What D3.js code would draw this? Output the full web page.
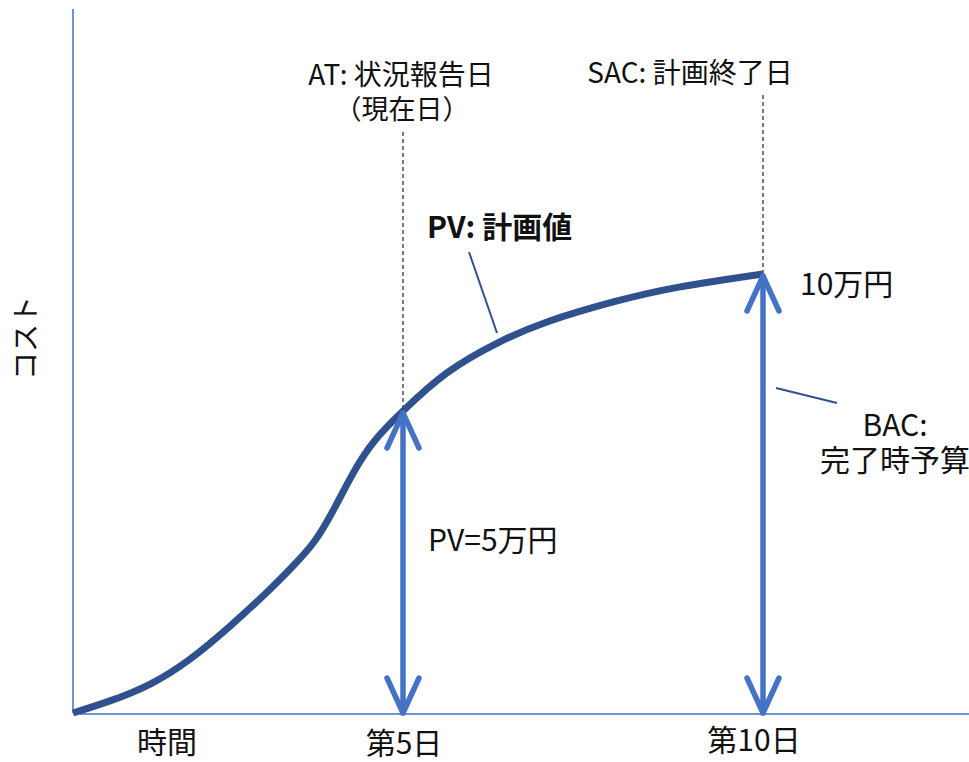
<!DOCTYPE html>
<html lang="ja">
<head>
<meta charset="utf-8">
<title>PV: 計画値</title>
<script src="https://cdn.jsdelivr.net/npm/d3@7"></script>
<style>
  html, body { margin: 0; padding: 0; background: #fff; }
  svg { display: block; }
  text { font-family: "Noto Sans CJK JP", "Noto Sans", sans-serif; fill: #111; }
</style>
</head>
<body>
<svg id="chart" width="969" height="762"></svg>
<script>
// Planned value (PV) curve: day -> cumulative planned cost (万円)
const pvDays  = [0, 0.56, 1.17, 1.77, 2.38, 2.91, 3.33, 3.67, 3.97, 4.27, 4.58, 5, 5.61, 6.31, 7.0, 7.92, 8.85, 10];
const pvCost  = [0, 0.20, 0.48, 0.89, 1.44, 1.97, 2.43, 2.86, 3.41, 4.02, 4.52, 5, 6.39, 7.48, 8.25, 8.98, 9.53, 10];

// Key dates on the time axis
const tickDays   = [5, 10];
const tickLabels = ["第5日", "第10日"];

// Status date (AT) and planned completion (SAC)
const atDay  = 5;
const sacDay = 10;

// Values marked with arrows
const pvAtValue = 5;    // PV=5万円
const bacValue  = 10;   // BAC: 10万円

const svg = d3.select("#chart");

// Scale breakpoints at day 0 / 5 / 10 and cost 0 / 5 / 10
const x = d3.scaleLinear().domain([0, 5, 10]).range([73, 403, 763]);
const y = d3.scaleLinear().domain([0, 5, 10]).range([713, 411, 274]);

const axisColor  = "#6f93d3";
const curveColor = "#2F528F";
const arrowColor = "#4472C4";

// Axes
svg.append("line")
  .attr("x1", x(0)).attr("x2", x(0))
  .attr("y1", 9).attr("y2", y(0))
  .attr("stroke", axisColor).attr("stroke-width", 2);
svg.append("line")
  .attr("x1", x(0) + 7).attr("x2", 969)
  .attr("y1", y(0) + 1).attr("y2", y(0) + 1)
  .attr("stroke", axisColor).attr("stroke-width", 2);

// Dashed guides for AT and SAC
const pvAt = d3.scaleLinear().domain(pvDays).range(pvCost);
svg.append("line")
  .attr("x1", x(atDay)).attr("x2", x(atDay))
  .attr("y1", 132).attr("y2", y(pvAt(atDay)))
  .attr("stroke", "#222").attr("stroke-width", 1.2)
  .attr("stroke-dasharray", "4,3");
svg.append("line")
  .attr("x1", x(sacDay)).attr("x2", x(sacDay))
  .attr("y1", 95).attr("y2", y(pvAt(sacDay)))
  .attr("stroke", "#222").attr("stroke-width", 1.2)
  .attr("stroke-dasharray", "4,3");

// PV curve
const pvData = pvDays.map((d, i) => [d, pvCost[i]]);
const line = d3.line()
  .x(d => x(d[0]))
  .y(d => y(d[1]))
  .curve(d3.curveNatural);
svg.append("path")
  .datum(pvData)
  .attr("d", line)
  .attr("fill", "none")
  .attr("stroke", curveColor)
  .attr("stroke-width", 7);

// Double-headed arrows from the time axis up to a value
function doubleArrow(day, value) {
  const cx = x(day), top = y(value) + 2, bottom = y(0);
  const hw = 16, hl = 35;
  const g = svg.append("g")
    .attr("fill", "none")
    .attr("stroke", arrowColor)
    .attr("stroke-width", 5.5)
    .attr("stroke-linecap", "round")
    .attr("stroke-linejoin", "round");
  g.append("line").attr("x1", cx).attr("x2", cx).attr("y1", top).attr("y2", bottom);
  g.append("path").attr("d", `M${cx - hw},${top + hl}L${cx},${top}L${cx + hw},${top + hl}`);
  g.append("path").attr("d", `M${cx - hw},${bottom - hl}L${cx},${bottom}L${cx + hw},${bottom - hl}`);
}
doubleArrow(atDay, pvAtValue);
doubleArrow(sacDay, bacValue);

// Leader lines
svg.append("line")
  .attr("x1", 469).attr("y1", 252).attr("x2", 497).attr("y2", 333)
  .attr("stroke", curveColor).attr("stroke-width", 2);
svg.append("line")
  .attr("x1", 776).attr("y1", 388).attr("x2", 837).attr("y2", 403)
  .attr("stroke", curveColor).attr("stroke-width", 2);

// Text labels
function label(txt, px, py, size, anchor, weight) {
  return svg.append("text")
    .attr("x", px).attr("y", py)
    .attr("font-size", size)
    .attr("text-anchor", anchor || "start")
    .attr("font-weight", weight || "normal")
    .text(txt);
}
label("AT: 状況報告日", x(atDay) - 2, 85, 28, "middle");
label("（現在日）", x(atDay) - 1, 119, 27, "middle");
label("SAC: 計画終了日", x(sacDay) - 73, 83, 28, "middle");
label("PV: 計画値", 427, 238, 30, "start", "bold");
label(`${bacValue}万円`, x(sacDay) + 37, 295, 30, "start");
label(`PV=${pvAtValue}万円`, x(atDay) + 25, 551, 30, "start");
label("BAC:", 895, 436, 30, "middle");
label("完了時予算", 895, 471, 30, "middle");

// Time axis labels
label("時間", 167, 753, 30, "middle");
tickDays.forEach((d, i) => {
  label(tickLabels[i], x(d) - (i === 0 ? -1 : 9), i === 0 ? 754 : 751, 30, "middle");
});

// Cost axis title
svg.append("text")
  .attr("transform", "translate(36,338) rotate(-90)")
  .attr("font-size", 28)
  .attr("text-anchor", "middle")
  .text("コスト");
</script>
</body>
</html>
